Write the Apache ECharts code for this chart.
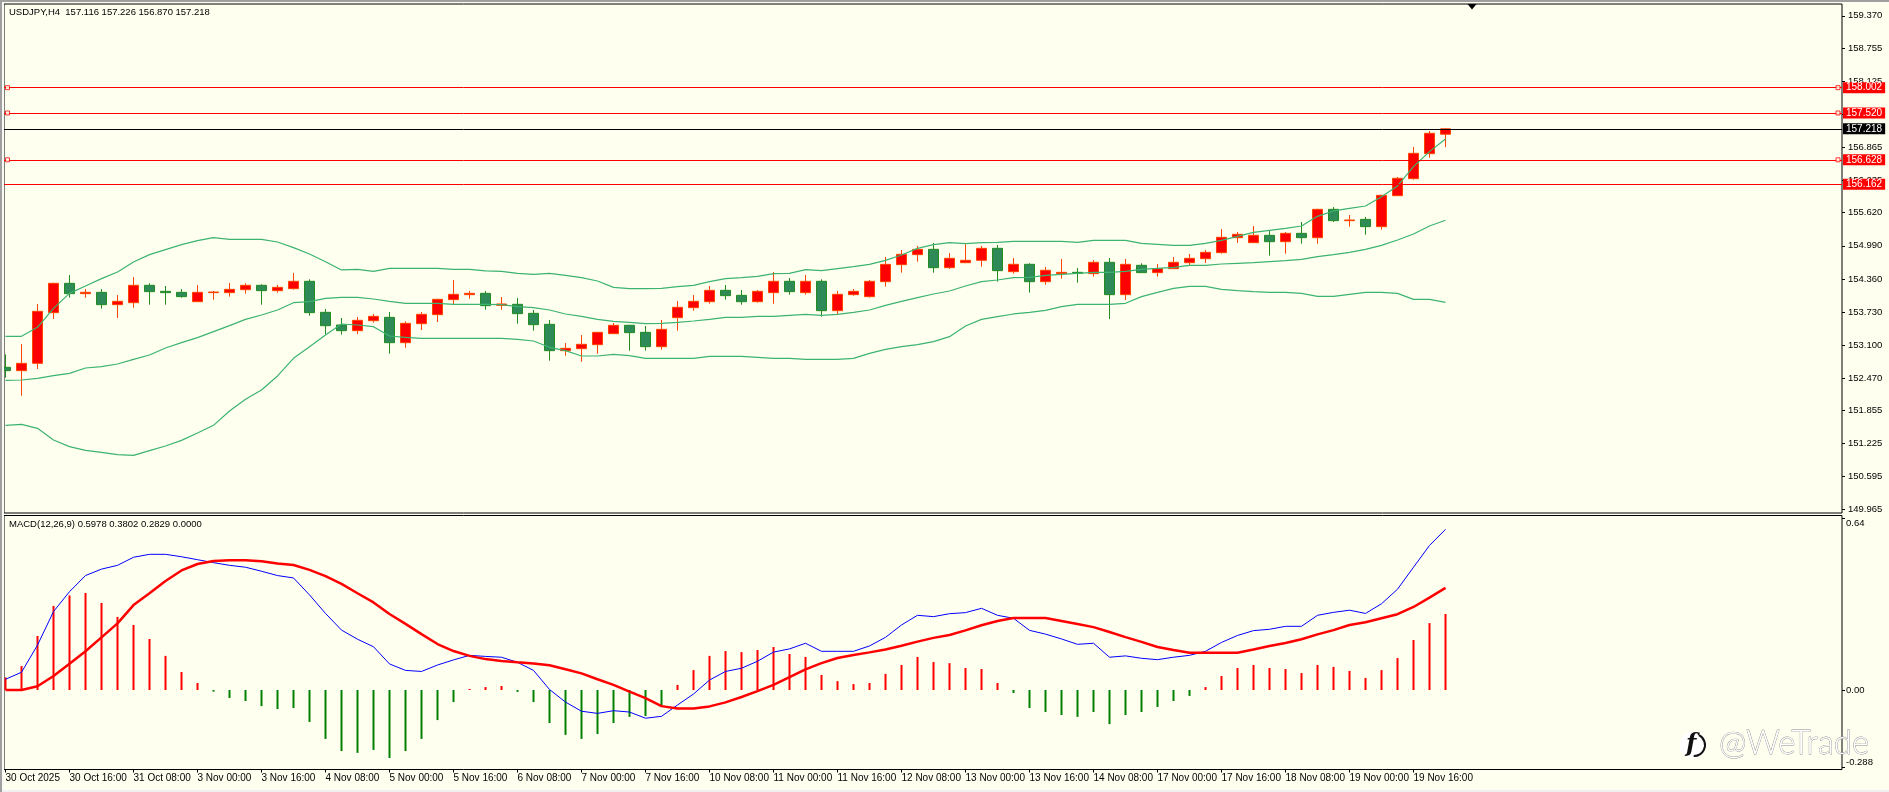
<!DOCTYPE html>
<html>
<head>
<meta charset="utf-8">
<style>
html,body{margin:0;padding:0;background:#FFFFF0;}
#chart{width:1889px;height:792px;}
</style>
<script src="https://cdn.jsdelivr.net/npm/echarts@6/dist/echarts.min.js"></script>
</head>
<body>
<div id="chart"></div>
<script>
const opens = [152.676,152.612,152.752,153.717,154.276,154.079,154.104,153.869,153.907,154.238,
154.123,154.104,153.926,154.098,154.098,154.155,154.238,154.136,154.174,154.314,
153.723,153.482,153.374,153.564,153.628,153.145,153.507,153.679,153.965,154.060,
154.085,153.857,153.876,153.704,153.495,152.993,153.031,153.107,153.317,153.476,
153.342,153.069,153.622,153.812,153.926,154.142,154.047,153.926,154.098,154.314,
154.098,154.314,153.755,154.060,154.022,154.307,154.631,154.822,154.923,154.574,
154.669,154.714,154.942,154.498,154.638,154.307,154.460,154.485,154.460,154.676,
154.060,154.619,154.479,154.555,154.669,154.745,154.860,155.145,155.050,155.190,
155.069,155.228,155.145,155.685,155.469,155.494,155.355,155.945,156.269,156.745,157.116];
const closes = [152.612,152.752,153.742,154.276,154.079,154.104,153.869,153.933,154.238,154.117,
154.098,154.022,154.104,154.110,154.161,154.238,154.136,154.199,154.314,153.717,
153.469,153.374,153.571,153.647,153.145,153.514,153.685,153.971,154.066,154.085,
153.850,153.882,153.698,153.488,152.993,153.037,153.114,153.342,153.476,153.336,
153.069,153.399,153.819,153.933,154.142,154.041,153.926,154.123,154.314,154.117,
154.314,153.755,154.066,154.123,154.314,154.637,154.828,154.923,154.574,154.752,
154.714,154.942,154.517,154.638,154.307,154.524,154.485,154.466,154.676,154.060,
154.638,154.479,154.555,154.676,154.752,154.866,155.152,155.209,155.190,155.069,
155.228,155.145,155.685,155.469,155.482,155.355,155.952,156.276,156.752,157.133,157.218];
const highs = [152.923,153.120,153.882,154.285,154.434,154.168,154.168,154.053,154.396,154.276,
154.225,154.168,154.244,154.130,154.282,154.276,154.257,154.244,154.473,154.352,
153.787,153.615,153.634,153.691,153.730,153.552,153.730,153.980,154.339,154.130,
154.130,154.015,153.996,153.768,153.577,153.139,153.291,153.350,153.520,153.485,
153.463,153.577,153.939,154.053,154.225,154.244,154.149,154.149,154.491,154.377,
154.434,154.352,154.130,154.168,154.339,154.777,154.910,154.987,155.044,154.853,
155.019,154.987,155.006,154.758,154.657,154.587,154.739,154.568,154.720,154.758,
154.739,154.657,154.644,154.777,154.834,154.910,155.310,155.253,155.367,155.279,
155.253,155.444,155.695,155.729,155.577,155.539,155.960,156.301,156.872,157.177,157.226];
const lows = [152.479,152.136,152.644,153.596,154.003,154.003,153.793,153.615,153.812,153.869,
153.869,154.003,153.920,153.965,154.022,154.079,153.869,154.098,154.155,153.660,
153.310,153.298,153.310,153.527,152.936,153.050,153.387,153.539,153.882,153.984,
153.774,153.774,153.507,153.374,152.803,152.898,152.784,152.936,153.310,152.993,
152.993,153.012,153.374,153.755,153.888,153.965,153.869,153.907,153.888,154.060,
154.060,153.641,153.685,154.041,154.003,154.212,154.479,154.688,154.479,154.549,
154.660,154.593,154.307,154.460,154.098,154.250,154.365,154.288,154.403,153.596,
153.958,154.475,154.403,154.550,154.625,154.663,154.841,155.044,155.045,154.803,
154.841,155.031,155.031,155.444,155.355,155.202,155.298,155.940,156.250,156.669,156.870];

const bbUpper = [153.266,153.266,153.438,153.799,154.085,154.225,154.365,154.491,154.682,154.822,
154.917,155.012,155.088,155.145,155.114,155.114,155.114,155.063,154.955,154.834,
154.688,154.530,154.542,154.504,154.561,154.561,154.561,154.561,154.542,154.542,154.511,
154.504,154.466,154.447,154.466,154.428,154.383,154.320,154.199,154.174,154.174,
154.180,154.212,154.237,154.307,154.364,154.383,154.409,154.460,154.466,154.536,
154.517,154.555,154.593,154.637,154.714,154.815,154.942,155.012,155.050,155.031,
155.050,155.056,155.075,155.075,155.075,155.075,155.056,155.095,155.095,155.095,
155.037,155.019,154.999,154.999,155.037,155.095,155.171,155.247,155.285,155.323,
155.368,155.552,155.654,155.704,155.749,155.926,156.130,156.498,156.784,157.025];
const bbMiddle = [152.428,152.434,152.466,152.517,152.561,152.663,152.688,152.739,152.828,152.911,
153.044,153.145,153.241,153.355,153.469,153.590,153.672,153.768,153.907,153.926,
153.990,154.009,154.009,153.977,153.933,153.895,153.895,153.895,153.876,153.876,153.876,
153.869,153.831,153.812,153.768,153.691,153.647,153.590,153.552,153.533,153.507,
153.514,153.533,153.558,153.590,153.628,153.628,153.647,153.647,153.666,153.685,
153.666,153.685,153.723,153.768,153.857,153.933,154.003,154.072,154.130,154.225,
154.307,154.339,154.384,154.390,154.428,154.447,154.466,154.485,154.485,154.504,
154.542,154.561,154.580,154.619,154.619,154.644,154.657,154.669,154.688,154.707,
154.733,154.783,154.822,154.866,154.923,154.999,155.101,155.215,155.368,155.476];
const bbLower = [151.571,151.590,151.514,151.292,151.165,151.095,151.057,151.012,150.999,151.088,
151.177,151.285,151.425,151.571,151.844,152.066,152.244,152.511,152.847,153.069,
153.291,153.501,153.482,153.450,153.272,153.247,153.228,153.228,153.228,153.228,153.228,
153.228,153.209,153.177,153.057,152.993,152.891,152.891,152.923,152.898,152.847,
152.847,152.847,152.847,152.885,152.885,152.885,152.866,152.847,152.847,152.828,
152.828,152.828,152.847,152.942,153.018,153.069,153.107,153.164,153.260,153.463,
153.590,153.641,153.692,153.723,153.761,153.831,153.876,153.876,153.876,153.895,
154.022,154.104,154.180,154.218,154.218,154.162,154.136,154.117,154.104,154.104,
154.085,154.028,154.028,154.066,154.104,154.104,154.085,153.971,153.971,153.914];

const macdLine = [0.040,0.066,0.167,0.292,0.366,0.426,0.450,0.464,0.494,0.505,
0.505,0.496,0.485,0.474,0.464,0.457,0.442,0.426,0.417,0.354,
0.285,0.223,0.189,0.161,0.097,0.073,0.069,0.093,0.112,0.129,
0.125,0.122,0.103,0.073,0.002,-0.045,-0.079,-0.087,-0.077,-0.082,
-0.105,-0.098,-0.056,-0.015,0.037,0.069,0.081,0.107,0.141,0.153,
0.174,0.144,0.144,0.144,0.164,0.196,0.242,0.278,0.273,0.284,
0.288,0.304,0.278,0.267,0.222,0.208,0.190,0.170,0.174,0.122,
0.127,0.118,0.113,0.122,0.129,0.144,0.177,0.203,0.221,0.226,
0.237,0.237,0.278,0.289,0.297,0.285,0.321,0.375,0.457,0.538,0.5978];
const signalLine = [0,0,0.014,0.052,0.098,0.144,0.196,0.248,0.316,0.360,
0.406,0.445,0.469,0.480,0.483,0.483,0.479,0.471,0.465,0.447,
0.424,0.395,0.360,0.326,0.283,0.246,0.208,0.171,0.145,0.127,
0.115,0.108,0.103,0.099,0.092,0.077,0.062,0.040,0.019,-0.006,
-0.030,-0.060,-0.069,-0.069,-0.061,-0.046,-0.026,-0.004,0.019,0.048,
0.077,0.100,0.119,0.130,0.140,0.151,0.165,0.180,0.194,0.205,
0.222,0.241,0.257,0.268,0.268,0.268,0.257,0.246,0.234,0.216,
0.197,0.179,0.160,0.149,0.139,0.139,0.139,0.139,0.151,0.164,
0.175,0.189,0.207,0.223,0.242,0.252,0.267,0.282,0.309,0.344,0.3802];
const macdHist = [0.047,0.089,0.201,0.313,0.352,0.361,0.324,0.272,0.242,0.190,
0.127,0.067,0.026,-0.006,-0.030,-0.041,-0.060,-0.071,-0.067,-0.119,
-0.182,-0.227,-0.234,-0.223,-0.253,-0.227,-0.182,-0.112,-0.045,0.004,
0.011,0.015,-0.007,-0.045,-0.123,-0.167,-0.182,-0.164,-0.123,-0.100,
-0.097,-0.060,0.019,0.074,0.127,0.145,0.141,0.149,0.160,0.134,
0.123,0.056,0.033,0.022,0.026,0.060,0.093,0.123,0.104,0.100,
0.082,0.078,0.026,-0.011,-0.067,-0.082,-0.093,-0.100,-0.082,-0.127,
-0.093,-0.082,-0.063,-0.041,-0.022,0.011,0.052,0.082,0.093,0.082,
0.078,0.063,0.093,0.086,0.071,0.045,0.074,0.119,0.186,0.249,0.2829];

const timeLabels = ['30 Oct 2025','30 Oct 16:00','31 Oct 08:00','3 Nov 00:00','3 Nov 16:00','4 Nov 08:00',
'5 Nov 00:00','5 Nov 16:00','6 Nov 08:00','7 Nov 00:00','7 Nov 16:00','10 Nov 08:00','11 Nov 00:00',
'11 Nov 16:00','12 Nov 08:00','13 Nov 00:00','13 Nov 16:00','14 Nov 08:00','17 Nov 00:00','17 Nov 16:00',
'18 Nov 08:00','19 Nov 00:00','19 Nov 16:00'];
const barsPerLabel = 4;
const priceTicks = [149.965,150.595,151.225,151.855,152.470,153.100,153.730,154.360,154.990,155.620,156.235,156.865,157.495,158.125,158.755,159.370];
const macdTicks = [-0.288,0,0.64];
const redLevels = [158.002,157.520,156.628,156.162];
const handledLevels = [158.002,157.520,156.628];
const lastPrice = 157.218;
const titleMain = 'USDJPY,H4  157.116 157.226 156.870 157.218';
const titleMacd = 'MACD(12,26,9) 0.5978 0.3802 0.2829 0.0000';

const FONT = '"Liberation Sans",Arial,sans-serif';
const BG = '#FFFFF0';
const withIndex = arr => arr.map((v, i) => [i, v]);
const xMin = -0.09375, xMax = xMin + 1838 / 16;
const tickPositions = timeLabels.map((_, i) => i * barsPerLabel);

const levelLine = (value, color) => ({
  yAxis: value,
  lineStyle: {color, width: 1, type: 'solid'},
  label: {
    show: true, position: 'end', distance: 1, formatter: value.toFixed(3),
    backgroundColor: color, color: '#fff', fontFamily: FONT, fontSize: 10,
    padding: [1, 3, 0, 3], lineHeight: 10
  }
});

const lineSeries = (name, data, color, width, xi) => ({
  name, type: 'line', data: withIndex(data), xAxisIndex: xi, yAxisIndex: xi,
  showSymbol: false, symbol: 'none', silent: true, clip: true,
  lineStyle: {color, width}, itemStyle: {color}
});

const handleData = [];
handledLevels.forEach(v => { handleData.push([xMin + 3.5 / 16, v], [xMax - 4 / 16, v]); });

const option = {
  animation: false,
  backgroundColor: BG,
  title: [
    {text: titleMain, left: 9, top: 7, padding: 0, textStyle: {fontFamily: FONT, fontSize: 9.5, fontWeight: 'normal', color: '#000', lineHeight: 11}},
    {text: titleMacd, left: 9, top: 519, padding: 0, textStyle: {fontFamily: FONT, fontSize: 9.5, fontWeight: 'normal', color: '#000', lineHeight: 11}}
  ],
  grid: [
    {left: 4, top: 4, width: 1838, height: 509, show: true, borderColor: '#000', borderWidth: 1, backgroundColor: 'transparent', containLabel: false},
    {left: 4, top: 515.5, width: 1838, height: 254, show: true, borderColor: '#000', borderWidth: 1, backgroundColor: 'transparent', containLabel: false}
  ],
  xAxis: [
    {type: 'value', gridIndex: 0, min: xMin, max: xMax, show: false, splitLine: {show: false}},
    {type: 'value', gridIndex: 1, min: xMin, max: xMax, splitLine: {show: false}, axisLine: {show: false, onZero: false},
      axisTick: {show: true, length: 3, inside: false, customValues: tickPositions, lineStyle: {color: '#000'}},
      axisLabel: {show: true, customValues: tickPositions, align: 'left', margin: 3, hideOverlap: false, showMinLabel: true, showMaxLabel: true,
        fontFamily: FONT, fontSize: 10, color: '#000', lineHeight: 12,
        formatter: v => timeLabels[Math.round(v / barsPerLabel)]}}
  ],
  yAxis: [
    {type: 'value', gridIndex: 0, position: 'right', min: 149.901, max: 159.596, scale: true, splitLine: {show: false},
      axisLine: {show: false, onZero: false},
      axisTick: {show: true, length: 3, customValues: priceTicks, lineStyle: {color: '#000'}},
      axisLabel: {show: true, customValues: priceTicks, margin: 6, hideOverlap: false, showMinLabel: true, showMaxLabel: true,
        fontFamily: FONT, fontSize: 9.5, color: '#000', formatter: v => v.toFixed(3)}},
    {type: 'value', gridIndex: 1, position: 'right', min: -0.2959, max: 0.6495, scale: true, splitLine: {show: false},
      axisLine: {show: false, onZero: false},
      axisTick: {show: true, length: 3, customValues: macdTicks, lineStyle: {color: '#000'}},
      axisLabel: {show: true, customValues: macdTicks, margin: 4, hideOverlap: false, showMinLabel: true, showMaxLabel: true,
        fontFamily: FONT, fontSize: 9.5, color: '#000',
        verticalAlignMinLabel: 'bottom', verticalAlignMaxLabel: 'top',
        formatter: v => v === 0 ? '0.00' : String(v)}}
  ],
  series: [
    {
      name: 'USDJPY', type: 'candlestick', xAxisIndex: 0, yAxisIndex: 0, barWidth: 10, silent: true,
      encode: {x: 0, y: [1, 2, 3, 4]},
      data: opens.map((o, i) => [i, o, closes[i], lows[i], highs[i]]),
      itemStyle: {color: '#FF0000', color0: '#2E8B57', borderColor: '#FF4500', borderColor0: '#228B22', borderWidth: 1},
      markLine: {
        silent: true, symbol: 'none', animation: false, precision: 3,
        data: redLevels.map(v => levelLine(v, '#FF0000')).concat([levelLine(lastPrice, '#000000')])
      }
    },
    lineSeries('BB upper', bbUpper, '#3CB371', 1.2, 0),
    lineSeries('BB middle', bbMiddle, '#3CB371', 1.2, 0),
    lineSeries('BB lower', bbLower, '#3CB371', 1.2, 0),
    {
      name: 'Level handles', type: 'scatter', xAxisIndex: 0, yAxisIndex: 0, symbol: 'rect', symbolSize: 4, silent: true, z: 5,
      data: handleData, itemStyle: {color: BG, borderColor: '#FF0000', borderWidth: 1}
    },
    {
      name: 'MACD histogram', type: 'bar', xAxisIndex: 1, yAxisIndex: 1, barWidth: 2, silent: true,
      data: macdHist.map((v, i) => ({value: [i, v], itemStyle: {color: v >= 0 ? '#FF0000' : '#008000'}}))
    },
    lineSeries('MACD', macdLine, '#0000FF', 1, 1),
    lineSeries('Signal', signalLine, '#FF0000', 2.5, 1)
  ],
  graphic: [
    {type: 'rect', z: 100, shape: {x: 0, y: 0, width: 4, height: 792}, style: {fill: '#FAFAF4'}, silent: true},
    {type: 'rect', z: 101, shape: {x: 0, y: 0, width: 2, height: 792}, style: {fill: '#A0A0A0'}, silent: true},
    {type: 'rect', z: 101, shape: {x: 0, y: 0, width: 1889, height: 2}, style: {fill: '#A0A0A0'}, silent: true},
    {type: 'rect', z: 100, shape: {x: 0, y: 790, width: 1889, height: 2}, style: {fill: '#F0F0F0'}, silent: true},
    {type: 'polygon', z: 50, shape: {points: [[1467.5, 4], [1476.5, 4], [1472, 9.5]]}, style: {fill: '#000'}, silent: true},
    {type: 'circle', z: 60, shape: {cx: 1693, cy: 745, r: 13.5}, style: {fill: '#fff'}, silent: true},
    {type: 'text', z: 61, x: 1686, y: 733, style: {text: 'f', font: 'italic bold 24px "DejaVu Serif"', fill: '#111'}, silent: true},
    {type: 'arc', z: 61, shape: {cx: 1694, cy: 745, r: 11, startAngle: -1.1, endAngle: 1.6}, style: {stroke: '#111', lineWidth: 2, fill: 'none'}, silent: true},
    {type: 'text', z: 60, x: 1719, y: 727, style: {text: '@WeTrade', font: '300 33px Lato', fill: '#fff', stroke: '#8c8c8c', lineWidth: 0.8}, silent: true}
  ]
};
echarts.init(document.getElementById('chart'), null, {renderer: 'canvas'}).setOption(option);
</script>
</body>
</html>
